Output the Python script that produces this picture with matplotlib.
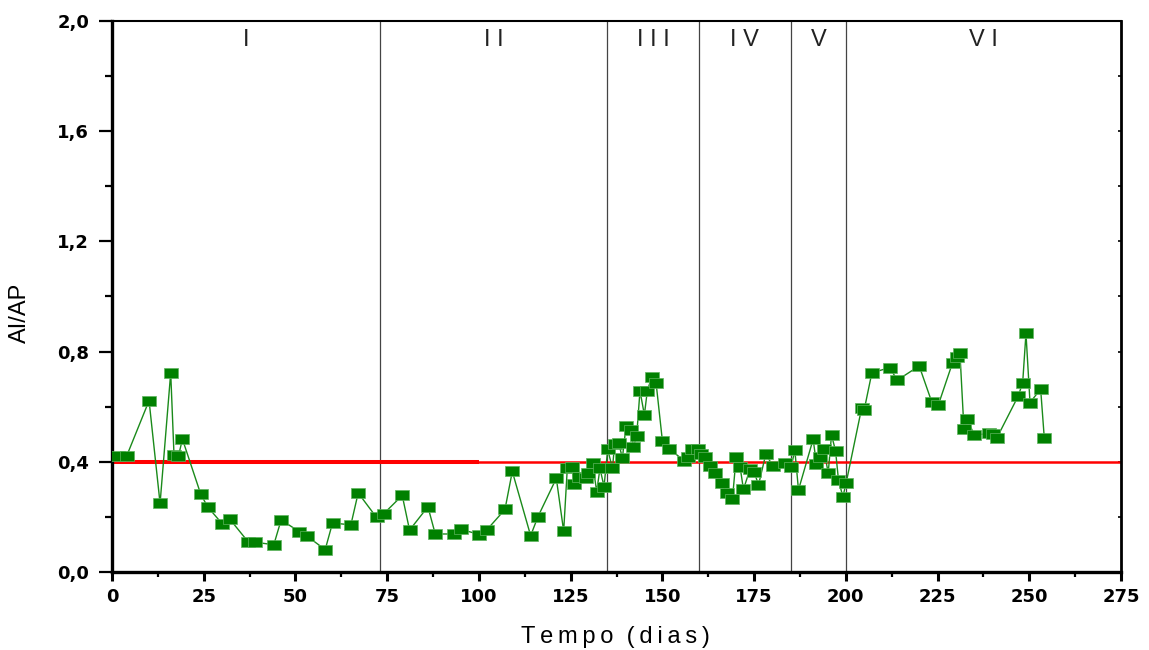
import matplotlib
matplotlib.use("Agg")
import matplotlib.pyplot as plt
from matplotlib.path import Path
from matplotlib.ticker import MultipleLocator, FuncFormatter

# ---- data ----
dias = [1.5, 4.0, 10.1, 13.1, 16.0, 16.9, 18.1, 19.2, 24.2, 26.1, 30.1, 32.1, 37.2, 39.0,
        44.1, 46.1, 51.1, 53.1, 58.1, 60.1, 65.1, 67.1, 72.1, 74.1, 79.1, 81.1, 86.1, 88.1,
        93.1, 95.1, 100.1, 102.1, 107.1, 109.1, 114.1, 116.1, 121.1, 123.1, 124.1, 125.3,
        126.0, 127.3, 129.2, 129.8, 131.0, 132.1, 133.0, 134.1, 135.1, 136.4, 137.0, 138.1,
        139.1, 140.1, 141.5, 142.1, 143.0, 143.9, 145.1, 145.9, 147.1, 148.3, 150.0, 151.9,
        156.0, 157.1, 158.2, 159.8, 160.6, 161.6, 163.0, 164.4, 166.2, 167.5, 169.1, 170.1,
        171.2, 172.1, 173.9, 175.0, 176.2, 178.2, 180.1, 183.3, 185.1, 186.1, 187.1, 191.1,
        192.0, 193.0, 194.0, 195.2, 196.1, 197.2, 198.0, 199.2, 200.1, 204.3, 205.0, 207.1,
        212.0, 214.0, 220.0, 223.4, 225.2, 229.1, 230.2, 231.1, 232.2, 233.1, 235.0, 239.1,
        240.0, 241.1, 247.0, 248.2, 249.1, 250.2, 253.1, 254.1]
ai_ap = [0.421, 0.421, 0.622, 0.249, 0.723, 0.425, 0.421, 0.482, 0.282, 0.236, 0.174, 0.192,
         0.108, 0.108, 0.099, 0.189, 0.146, 0.131, 0.081, 0.178, 0.171, 0.287, 0.198, 0.212,
         0.278, 0.152, 0.237, 0.138, 0.138, 0.155, 0.136, 0.152, 0.227, 0.365, 0.132, 0.201,
         0.340, 0.148, 0.378, 0.380, 0.319, 0.346, 0.340, 0.358, 0.394, 0.292, 0.376, 0.310,
         0.445, 0.376, 0.465, 0.469, 0.413, 0.530, 0.515, 0.453, 0.494, 0.658, 0.570, 0.658,
         0.707, 0.685, 0.477, 0.446, 0.404, 0.419, 0.446, 0.446, 0.430, 0.416, 0.385, 0.360,
         0.322, 0.288, 0.265, 0.416, 0.380, 0.300, 0.374, 0.364, 0.316, 0.428, 0.385, 0.394,
         0.380, 0.443, 0.298, 0.482, 0.391, 0.419, 0.445, 0.360, 0.497, 0.440, 0.334, 0.273,
         0.324, 0.594, 0.588, 0.723, 0.742, 0.696, 0.748, 0.618, 0.606, 0.760, 0.779, 0.796,
         0.518, 0.555, 0.497, 0.503, 0.500, 0.485, 0.639, 0.687, 0.866, 0.615, 0.664, 0.485]

limite = 0.4
fronteiras = [73, 135, 160, 185, 200]
fases = ["I", "I I", "I I I", "I V", "V", "V I"]
fases_x = [36.5, 104, 147.5, 172.5, 192.5, 237.5]

fig = plt.figure(figsize=(11.49, 6.5), dpi=100)
ax = fig.add_axes([112/1149, 1-572/650, (1121-112)/1149, (572-21)/650])

for xv in fronteiras:
    ax.axvline(xv, color="#444444", lw=0.9, zorder=1)

ax.axhline(limite, color="#ff0000", lw=1.8, zorder=2)
ax.plot([0, 100], [limite, limite], color="#ff0000", lw=2.9, zorder=2, solid_capstyle="butt")

rect = Path([(-1.3, -1.0), (1.3, -1.0), (1.3, 1.0), (-1.3, 1.0), (-1.3, -1.0)],
            [Path.MOVETO, Path.LINETO, Path.LINETO, Path.LINETO, Path.CLOSEPOLY])
ax.plot(dias, ai_ap, color="#1a8a1a", lw=1.0, marker=rect, markersize=9.6,
        markerfacecolor="#008000", markeredgecolor="#5fb45f", markeredgewidth=0.5, zorder=3)

for txt, xv in zip(fases, fases_x):
    ax.text(xv, 1.97, txt, ha="center", va="top", fontsize=17, color="#222222",
            family="Liberation Sans")

ax.set_xlim(0, 275)
ax.set_ylim(0, 2.0)
ax.xaxis.set_major_locator(MultipleLocator(25))
ax.xaxis.set_minor_locator(MultipleLocator(12.5))
ax.yaxis.set_major_locator(MultipleLocator(0.4))
ax.yaxis.set_minor_locator(MultipleLocator(0.2))
ax.yaxis.set_major_formatter(FuncFormatter(lambda v, p: f"{v:.1f}".replace(".", ",")))

ax.tick_params(axis="x", which="major", direction="out", length=6.5, width=2.2, pad=5,
               labelsize=13, top=False)
ax.tick_params(axis="x", which="minor", direction="out", length=3.3, width=1.6, top=False)
ax.tick_params(axis="y", which="major", direction="out", length=9.5, width=1.6, pad=7,
               labelsize=13, right=True)
ax.tick_params(axis="y", which="minor", direction="out", length=5, width=1.6, right=True)
for lab in ax.get_xticklabels() + ax.get_yticklabels():
    lab.set_family("DejaVu Sans"); lab.set_fontweight("bold")

# tiny inward ticks on the right
for t in ax.yaxis.get_major_ticks() + ax.yaxis.get_minor_ticks():
    t.tick2line.set_marker(0)
    t.tick2line.set_markersize(2)
    t.tick2line.set_markeredgewidth(1.2)

ax.spines["left"].set_linewidth(2.4)
ax.spines["bottom"].set_linewidth(2.4)
ax.spines["top"].set_linewidth(1.5)
ax.spines["right"].set_linewidth(2.0)

ts = "\u2009"
ax.set_xlabel(ts.join("Tempo") + "  " + ts.join("(dias)"), fontsize=17,
              family=["Liberation Sans", "DejaVu Sans"])
ax.xaxis.set_label_coords(0.4985, -0.098)
ax.set_ylabel("AI/AP", fontsize=17, family="Liberation Sans")
ax.yaxis.set_label_coords(-0.080, 0.47)

fig.savefig("out.png", dpi=100)
